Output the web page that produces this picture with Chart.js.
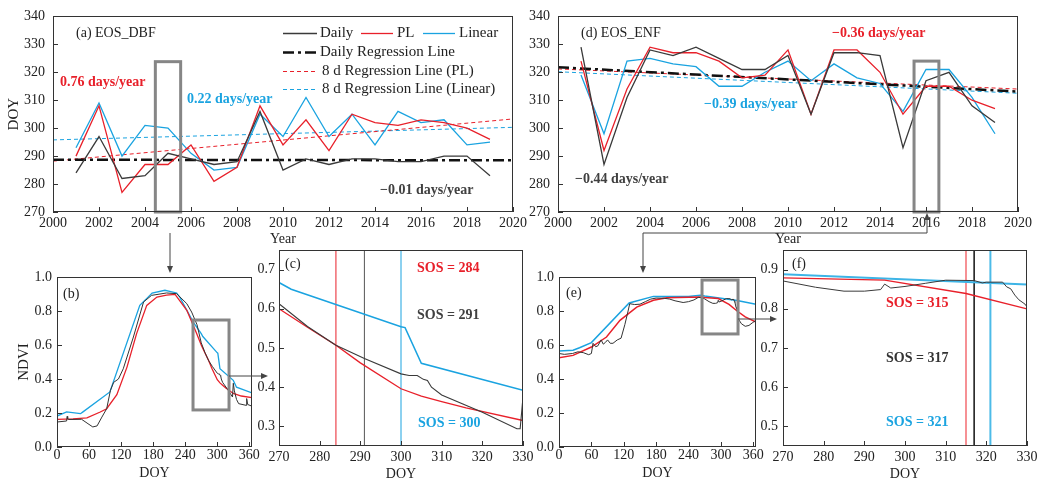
<!DOCTYPE html>
<html><head><meta charset="utf-8">
<script src="https://cdn.jsdelivr.net/npm/chart.js@4.4.1/dist/chart.umd.min.js"></script>
<style>
html,body{margin:0;padding:0;background:#fff;}
body{width:1052px;height:484px;position:relative;overflow:hidden;}
canvas{position:absolute;}
svg{position:absolute;left:0;top:0;}
</style></head><body>
<canvas id="ca"></canvas>
<canvas id="cd"></canvas>
<canvas id="cb"></canvas>
<canvas id="cc"></canvas>
<canvas id="ce"></canvas>
<canvas id="cf"></canvas>
<svg width="1052" height="484" xmlns="http://www.w3.org/2000/svg">
  <g stroke="#444" stroke-width="1" fill="none">
    <line x1="170" y1="233" x2="170" y2="267"/>
    <line x1="229" y1="376" x2="262" y2="376"/>
    <line x1="738" y1="319" x2="771" y2="319"/>
    <polyline points="643,267 643,233 927,233 927,219"/>
  </g>
  <g fill="#444">
    <polygon points="170,273 167,266 173,266"/>
    <polygon points="268,376 261,373 261,379"/>
    <polygon points="777,319 770,316 770,322"/>
    <polygon points="643,273 640,266 646,266"/>
    <polygon points="927,213 924,220 930,220"/>
  </g>
</svg>
<script>
// ---------------- DATA ----------------
const years = [2001,2002,2003,2004,2005,2006,2007,2008,2009,2010,2011,2012,2013,2014,2015,2016,2017,2018,2019];
const dbfDaily  = [284,297,282,283,291,289,287,288,306,285,289,287,289,289,288,288,290,290,283];
const dbfPL     = [290,308,277,287,287,294,281,286,308,294,303,292,305,302,301,303,302,300,296];
const dbfLinear = [293,309,290,301,300,291,285,286,305,297,311,297,305,294,306,302,303,294,295];
const regYears = [2000, 2020];
const dbfDailyReg  = [288.7, 288.5];
const dbfPLReg     = [288.2, 303.3];
const dbfLinearReg = [295.8, 300.3];

const enfDaily  = [329,287,311,328,326,329,325,321,321,326,305,327,327,326,293,317,320,308,302];
const enfPL     = [324,292,314,329,327,327,324,318,319,328,305,328,328,320,305,315,315,310,307];
const enfLinear = [319,298,324,325,323,322,315,315,320,324,317,323,318,316,306,321,321,311,298];
const enfDailyReg  = [321.8, 313.1];
const enfPLReg     = [321.2, 314.0];
const enfLinearReg = [320.2, 312.5];

// DBF 2005 NDVI curves (DOY / NDVI)
const dbfCurveDailyDoy  = [0,18,19,20,22,46,58,67,75,84,93,100,106,115,124,143,162,177,205,224,243,252,262,270,277,284,291,300,302,304,305.5,306.5,307.5,310,320,328.5,329.3,330,332,336,340,354,355,357,365];
const dbfCurveDailyNdvi = [0.147,0.153,0.18,0.165,0.162,0.163,0.137,0.118,0.124,0.176,0.225,0.333,0.38,0.40,0.46,0.647,0.853,0.892,0.906,0.902,0.843,0.794,0.72,0.613,0.555,0.507,0.473,0.434,0.43,0.43,0.42,0.417,0.40,0.38,0.336,0.294,0.294,0.375,0.33,0.28,0.255,0.245,0.285,0.25,0.24];
const dbfCurvePLDoy  = [0,30,56,81,93,112,131,149,168,187,205,221,243,261,270,277,284,290,300,305,310,316,330,345,365];
const dbfCurvePLNdvi = [0.163,0.165,0.171,0.206,0.225,0.308,0.47,0.667,0.833,0.882,0.893,0.898,0.804,0.67,0.60,0.553,0.507,0.462,0.396,0.377,0.363,0.347,0.315,0.30,0.29];
const dbfCurveLinDoy  = [0,18,44,48,99,155,170,178,202,224,230,255,270,273,300,301,305,330,336,365];
const dbfCurveLinNdvi = [0.182,0.207,0.196,0.205,0.324,0.833,0.88,0.905,0.922,0.906,0.88,0.735,0.667,0.65,0.554,0.552,0.461,0.392,0.352,0.318];
const dbfSos = [284, 291, 300]; // PL, Daily, Linear

// ENF 2016 NDVI curves
const enfCurveDailyDoy  = [0,10,25,35,45,55,60,63,68,72,78,82,86,90,95,100,108,115,122,128,131,140,150,160,170,180,195,205,215,230,240,250,258,265,270,278,285,290,294,295,296.5,300,305,310,317,319,320,324,325,326,327,328,329.5,330,331,333,338,345,352,358,365];
const enfCurveDailyNdvi = [0.55,0.545,0.55,0.56,0.555,0.543,0.55,0.61,0.59,0.595,0.63,0.605,0.615,0.63,0.61,0.61,0.63,0.64,0.72,0.80,0.843,0.838,0.84,0.855,0.87,0.876,0.875,0.87,0.86,0.85,0.855,0.865,0.88,0.878,0.871,0.855,0.845,0.845,0.849,0.863,0.853,0.857,0.865,0.873,0.872,0.866,0.868,0.868,0.856,0.851,0.835,0.823,0.812,0.805,0.79,0.75,0.725,0.71,0.715,0.73,0.745];
const enfCurvePLDoy  = [0,26,60,88,113,144,175,200,261,270,295,315,330,345,365];
const enfCurvePLNdvi = [0.525,0.539,0.588,0.647,0.745,0.823,0.863,0.878,0.882,0.879,0.873,0.839,0.80,0.765,0.735];
const enfCurveLinDoy  = [0,26,38,60,130,175,240,262,270,330,365];
const enfCurveLinNdvi = [0.565,0.569,0.584,0.614,0.847,0.886,0.886,0.893,0.888,0.862,0.84];
const enfSos = [315, 317, 321]; // PL, Daily, Linear

// tick labels
const yearTicks = [2000,2002,2004,2006,2008,2010,2012,2014,2016,2018,2020];
const eosTicks = [270,280,290,300,310,320,330,340];
const doyFullTicks = [0,60,120,180,240,300,360];
const ndviFullTicks = [0,0.2,0.4,0.6,0.8,1.0];
const doyZoomTicks = [270,280,290,300,310,320,330];
const dbfZoomNdviTicks = [0.3,0.4,0.5,0.6,0.7];
const enfZoomNdviTicks = [0.5,0.6,0.7,0.8,0.9];

// ---------------- STYLE / HELPERS ----------------
const RED = '#e8202a', BLUE = '#1aa3e0', DARK = '#3a3a3a';
const FONT = "'Liberation Serif','Times New Roman',serif";
Chart.defaults.font.family = FONT;
Chart.defaults.color = '#222';

function pts(xs, ys) { return xs.map((x, i) => ({x: x, y: ys[i]})); }
function line(label, data, color, width, dash) {
  return {label: label, data: data, borderColor: color, backgroundColor: color, borderWidth: width,
          borderDash: dash || [], pointRadius: 0, tension: 0, fill: false};
}
function vline(label, x, ymin, ymax, color, width) {
  return line(label, [{x: x, y: ymin}, {x: x, y: ymax}], color, width);
}

const deco = {
  id: 'deco',
  afterDraw(chart, args, o) {
    const ctx = chart.ctx, a = chart.chartArea, sx = chart.scales.x, sy = chart.scales.y;
    ctx.save();
    (o.boxes || []).forEach(b => {
      const x1 = sx.getPixelForValue(b.x0), x2 = sx.getPixelForValue(b.x1);
      const y1 = sy.getPixelForValue(b.y1), y2 = sy.getPixelForValue(b.y0);
      ctx.strokeStyle = '#868686'; ctx.lineWidth = 3;
      ctx.strokeRect(x1, y1, x2 - x1, y2 - y1);
    });
    ctx.strokeStyle = '#333'; ctx.lineWidth = 1;
    const L = Math.round(a.left), T = Math.round(a.top), R = Math.round(a.right), B = Math.round(a.bottom);
    ctx.strokeRect(L + 0.5, T + 0.5, R - L - 1, B - T - 1);
    ctx.beginPath();
    sx.ticks.forEach(t => { const p = Math.round(sx.getPixelForValue(t.value)) + 0.5; ctx.moveTo(p, B); ctx.lineTo(p, B - 5); });
    sy.ticks.forEach(t => { const p = Math.round(sy.getPixelForValue(t.value)) + 0.5; ctx.moveTo(L, p); ctx.lineTo(L + 5, p); });
    ctx.stroke();
    ctx.textBaseline = 'middle'; ctx.textAlign = 'left';
    (o.texts || []).forEach(t => {
      ctx.font = (t.bold ? 'bold ' : '') + (t.size || 14) + 'px ' + FONT;
      ctx.fillStyle = t.color || '#222';
      ctx.fillText(t.text, t.x - o.ox, t.y - o.oy);
    });
    (o.legend || []).forEach(it => {
      const ds = chart.data.datasets[it.ds];
      ctx.strokeStyle = ds.borderColor; ctx.lineWidth = ds.borderWidth; ctx.setLineDash(ds.borderDash || []);
      ctx.beginPath(); ctx.moveTo(it.x0 - o.ox, it.y - o.oy + 0.5); ctx.lineTo(it.x1 - o.ox, it.y - o.oy + 0.5); ctx.stroke();
      ctx.setLineDash([]);
      ctx.font = '15px ' + FONT; ctx.fillStyle = '#222';
      ctx.fillText(ds.label, it.tx - o.ox, it.y - o.oy);
    });
    ctx.restore();
  }
};

function make(id, p) {
  const cv = document.getElementById(id);
  cv.width = p.w; cv.height = p.h;
  cv.style.left = p.left + 'px'; cv.style.top = p.top + 'px';
  cv.style.width = p.w + 'px'; cv.style.height = p.h + 'px';
  const tickFont = {size: 14};
  const xs = {
    type: 'linear', min: p.x[0], max: p.x[1],
    grid: {display: false, drawTicks: false}, border: {display: false},
    ticks: {autoSkip: false, maxRotation: 0, padding: p.xPad,
            font: tickFont, color: '#222', callback: v => String(Math.round(v))},
    afterBuildTicks: s => { s.ticks = p.xTicks.map(v => ({value: v})); },
    title: p.xTitle ? {display: true, text: p.xTitle, font: {size: 14}, color: '#222', padding: {top: 0, bottom: p.xTitlePad}} : {display: false},
    afterFit: s => { s.height = p.xH; }
  };
  const ys = {
    type: 'linear', min: p.y[0], max: p.y[1],
    grid: {display: false, drawTicks: false}, border: {display: false},
    ticks: {autoSkip: false, padding: p.yPad, font: tickFont, color: '#222', callback: p.yFmt},
    afterBuildTicks: s => { s.ticks = p.yTicks.map(v => ({value: v})); },
    title: p.yTitle ? {display: true, text: p.yTitle, font: {size: 15}, color: '#222', padding: {top: p.yTitlePad, bottom: 0}} : {display: false},
    afterFit: s => { s.width = p.yW; }
  };
  return new Chart(cv, {
    type: 'line',
    data: {datasets: p.datasets},
    options: {
      responsive: false, animation: false, devicePixelRatio: 1,
      layout: {padding: p.pad},
      scales: {x: xs, y: ys},
      plugins: {legend: {display: false}, tooltip: {enabled: false},
                deco: Object.assign({ox: p.left, oy: p.top}, p.deco)}
    },
    plugins: [deco]
  });
}

const fmt0 = v => String(Math.round(v));
const fmt1 = v => Number(v).toFixed(1);

// (a) EOS_DBF
make('ca', {
  left: 0, top: 0, w: 530, h: 250, pad: {left: 0, top: 16, right: 17, bottom: 0}, yW: 53, xH: 38,
  x: [2000, 2020], y: [270, 340], xTicks: yearTicks, yTicks: eosTicks, xPad: 3, yPad: 8, yFmt: fmt0,
  xTitle: 'Year', xTitlePad: 2, yTitle: 'DOY', yTitlePad: 5,
  datasets: [
    line('Daily', pts(years, dbfDaily), DARK, 1.3),
    line('PL', pts(years, dbfPL), RED, 1.3),
    line('Linear', pts(years, dbfLinear), BLUE, 1.3),
    line('Daily Regression Line', pts(regYears, dbfDailyReg), '#111', 2.5, [11, 4, 3, 4]),
    line('8 d Regression Line (PL)', pts(regYears, dbfPLReg), RED, 1, [4, 3]),
    line('8 d Regression Line (Linear)', pts(regYears, dbfLinearReg), BLUE, 1, [4, 3])
  ],
  deco: {
    boxes: [{x0: 2004.45, x1: 2005.55, y0: 270, y1: 323.8}],
    texts: [
      {text: '(a) EOS_DBF', x: 76, y: 33},
      {text: '0.76 days/year', x: 60, y: 82, bold: true, color: RED},
      {text: '0.22 days/year', x: 187, y: 99, bold: true, color: BLUE},
      {text: '\u22120.01 days/year', x: 380, y: 190, bold: true, color: '#404040'}
    ],
    legend: [
      {ds: 0, x0: 283, x1: 317, tx: 320, y: 33},
      {ds: 1, x0: 361, x1: 393, tx: 397, y: 33},
      {ds: 2, x0: 423, x1: 455, tx: 459, y: 33},
      {ds: 3, x0: 283, x1: 318, tx: 320, y: 52},
      {ds: 4, x0: 283, x1: 317, tx: 322, y: 71},
      {ds: 5, x0: 283, x1: 317, tx: 322, y: 89}
    ]
  }
});

// (d) EOS_ENF
make('cd', {
  left: 505, top: 0, w: 530, h: 250, pad: {left: 0, top: 16, right: 17, bottom: 0}, yW: 53, xH: 38,
  x: [2000, 2020], y: [270, 340], xTicks: yearTicks, yTicks: eosTicks, xPad: 3, yPad: 8, yFmt: fmt0,
  xTitle: 'Year', xTitlePad: 2,
  datasets: [
    line('Daily', pts(years, enfDaily), DARK, 1.3),
    line('PL', pts(years, enfPL), RED, 1.3),
    line('Linear', pts(years, enfLinear), BLUE, 1.3),
    line('Daily Regression Line', pts(regYears, enfDailyReg), '#111', 2.5, [11, 4, 3, 4]),
    line('8 d Regression Line (PL)', pts(regYears, enfPLReg), RED, 1, [4, 3]),
    line('8 d Regression Line (Linear)', pts(regYears, enfLinearReg), BLUE, 1, [4, 3])
  ],
  deco: {
    boxes: [{x0: 2015.48, x1: 2016.56, y0: 270, y1: 324}],
    texts: [
      {text: '(d) EOS_ENF', x: 581, y: 33},
      {text: '\u22120.36 days/year', x: 832, y: 33, bold: true, color: RED},
      {text: '\u22120.39 days/year', x: 704, y: 104, bold: true, color: BLUE},
      {text: '\u22120.44 days/year', x: 575, y: 179, bold: true, color: '#404040'}
    ]
  }
});

// (b) DBF NDVI full year
make('cb', {
  left: 0, top: 260, w: 265, h: 224, pad: {left: 0, top: 17, right: 13, bottom: 0}, yW: 57, xH: 37,
  x: [0, 365], y: [0, 1], xTicks: doyFullTicks, yTicks: ndviFullTicks, xPad: 0, yPad: 5, yFmt: fmt1,
  xTitle: 'DOY', xTitlePad: 2, yTitle: 'NDVI', yTitlePad: 15,
  datasets: [
    line('Daily', pts(dbfCurveDailyDoy, dbfCurveDailyNdvi), '#333', 1),
    line('PL', pts(dbfCurvePLDoy, dbfCurvePLNdvi), RED, 1.3),
    line('Linear', pts(dbfCurveLinDoy, dbfCurveLinNdvi), BLUE, 1.3)
  ],
  deco: {
    boxes: [{x0: 254.6, x1: 322, y0: 0.218, y1: 0.747}],
    texts: [{text: '(b)', x: 63, y: 294}]
  }
});

// (c) DBF zoom
make('cc', {
  left: 250, top: 235, w: 290, h: 249, pad: {left: 0, top: 15, right: 17, bottom: 0}, yW: 29, xH: 38,
  x: [270, 330], y: [0.25, 0.75], xTicks: doyZoomTicks, yTicks: dbfZoomNdviTicks, xPad: 3, yPad: 4, yFmt: fmt1,
  xTitle: 'DOY', xTitlePad: 1,
  datasets: [
    line('Daily', pts(dbfCurveDailyDoy, dbfCurveDailyNdvi), '#3a3a3a', 1.1),
    line('PL', pts(dbfCurvePLDoy, dbfCurvePLNdvi), RED, 1.3),
    line('Linear', pts(dbfCurveLinDoy, dbfCurveLinNdvi), BLUE, 1.5),
    vline('SOS PL', dbfSos[0], 0.25, 0.75, RED, 1),
    vline('SOS Daily', dbfSos[1], 0.25, 0.75, '#555', 1),
    vline('SOS Linear', dbfSos[2], 0.25, 0.75, BLUE, 1)
  ],
  deco: {
    texts: [
      {text: '(c)', x: 285, y: 264},
      {text: 'SOS = ' + dbfSos[0], x: 417, y: 268, bold: true, color: RED},
      {text: 'SOS = ' + dbfSos[1], x: 417, y: 315, bold: true, color: '#404040'},
      {text: 'SOS = ' + dbfSos[2], x: 418, y: 423, bold: true, color: BLUE}
    ]
  }
});

// (e) ENF NDVI full year
make('ce', {
  left: 525, top: 260, w: 245, h: 224, pad: {left: 0, top: 17, right: 14, bottom: 0}, yW: 34, xH: 37,
  x: [0, 365], y: [0, 1], xTicks: doyFullTicks, yTicks: ndviFullTicks, xPad: 0, yPad: 5, yFmt: fmt1,
  xTitle: 'DOY', xTitlePad: 2,
  datasets: [
    line('Daily', pts(enfCurveDailyDoy, enfCurveDailyNdvi), '#333', 1),
    line('PL', pts(enfCurvePLDoy, enfCurvePLNdvi), RED, 1.5),
    line('Linear', pts(enfCurveLinDoy, enfCurveLinNdvi), BLUE, 1.5)
  ],
  deco: {
    boxes: [{x0: 265, x1: 331.7, y0: 0.665, y1: 0.982}],
    texts: [{text: '(e)', x: 566, y: 293}]
  }
});

// (f) ENF zoom
make('cf', {
  left: 750, top: 235, w: 295, h: 249, pad: {left: 0, top: 15, right: 18, bottom: 0}, yW: 33, xH: 38,
  x: [270, 330], y: [0.45, 0.95], xTicks: doyZoomTicks, yTicks: enfZoomNdviTicks, xPad: 3, yPad: 5, yFmt: fmt1,
  xTitle: 'DOY', xTitlePad: 1,
  datasets: [
    line('Daily', pts(enfCurveDailyDoy, enfCurveDailyNdvi), '#3a3a3a', 1),
    line('PL', pts(enfCurvePLDoy, enfCurvePLNdvi), RED, 1.3),
    line('Linear', pts(enfCurveLinDoy, enfCurveLinNdvi), '#3db4e6', 2),
    vline('SOS PL', enfSos[0], 0.45, 0.95, '#f0474d', 1.2),
    vline('SOS Daily', enfSos[1], 0.45, 0.95, '#111', 1.5),
    vline('SOS Linear', enfSos[2], 0.45, 0.95, '#4cbbe8', 2)
  ],
  deco: {
    texts: [
      {text: '(f)', x: 792, y: 264},
      {text: 'SOS = ' + enfSos[0], x: 886, y: 303, bold: true, color: RED},
      {text: 'SOS = ' + enfSos[1], x: 886, y: 358, bold: true, color: '#333'},
      {text: 'SOS = ' + enfSos[2], x: 886, y: 422, bold: true, color: BLUE}
    ]
  }
});
</script>
</body></html>
